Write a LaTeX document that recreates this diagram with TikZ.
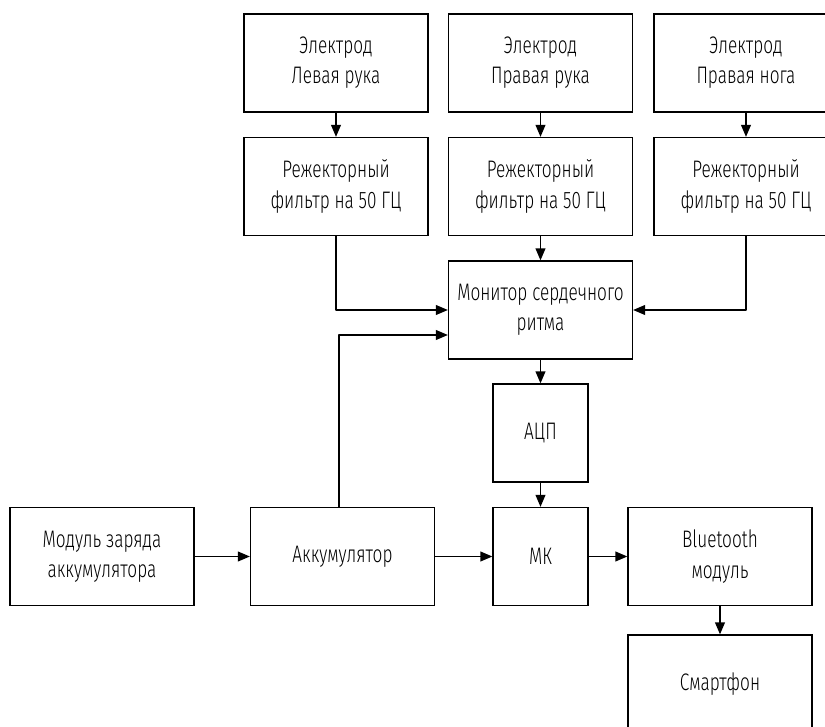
\documentclass[tikz,border=0pt]{standalone}
\usepackage{fontspec}
\setmainfont{Fira Sans Light}[FakeStretch=0.72]
\usetikzlibrary{arrows.meta,calc}
\begin{document}
\begin{tikzpicture}[x=0.025cm,y=-0.025cm,
  blk/.style={draw,line width=0.9pt,minimum width=4.6cm,minimum height=2.45cm,
    align=center,inner sep=0pt,font=\fontsize{17}{21.5}\selectfont},
  nar/.style={blk,minimum width=2.375cm},
  link/.style={line width=0.9pt,line join=round,-{Triangle[length=8.5pt,width=7pt]}}]
\useasboundingbox (0,0) rectangle (825,727);
% electrodes
\node[blk] (e1) at (336,63)   {Электрод\\Левая рука};
\node[blk] (e2) at (540.5,63) {Электрод\\Правая рука};
\node[blk] (e3) at (746,63)   {Электрод\\Правая нога};
% notch filters
\node[blk] (f1) at (336,186.5)   {Режекторный\\фильтр на 50 ГЦ};
\node[blk] (f2) at (540.5,186.5) {Режекторный\\фильтр на 50 ГЦ};
\node[blk] (f3) at (746,186.5)   {Режекторный\\фильтр на 50 ГЦ};
% processing chain
\node[blk] (mon) at (540.5,310) {Монитор сердечного\\ритма};
\node[nar] (adc) at (540.5,433) {АЦП};
\node[blk] (chg) at (102,556.5)   {Модуль заряда\\аккумулятора};
\node[blk] (acc) at (342.5,556.5) {Аккумулятор};
\node[nar] (mk)  at (540.5,556.5) {МК};
\node[blk] (bt)  at (720,556.5)   {Bluetooth\\модуль};
\node[blk] (sm)  at (720,684)     {Смартфон};
% connections
\draw[link] (e1) -- (f1);
\draw[link] (e2) -- (f2);
\draw[link] (e3) -- (f3);
\draw[link] (f2) -- (mon);
\draw[link] (f1.south) |- (mon.west);
\draw[link] (f3.south) |- (mon.east);
\draw[link] ($(acc.north)+(-3.5,0)$) |- ($(mon.west)+(0,25)$);
\draw[link] (mon) -- (adc);
\draw[link] (adc) -- (mk);
\draw[link] (chg) -- (acc);
\draw[link] (acc) -- (mk);
\draw[link] (mk) -- (bt);
\draw[link] (bt) -- (sm);
\end{tikzpicture}
\end{document}
